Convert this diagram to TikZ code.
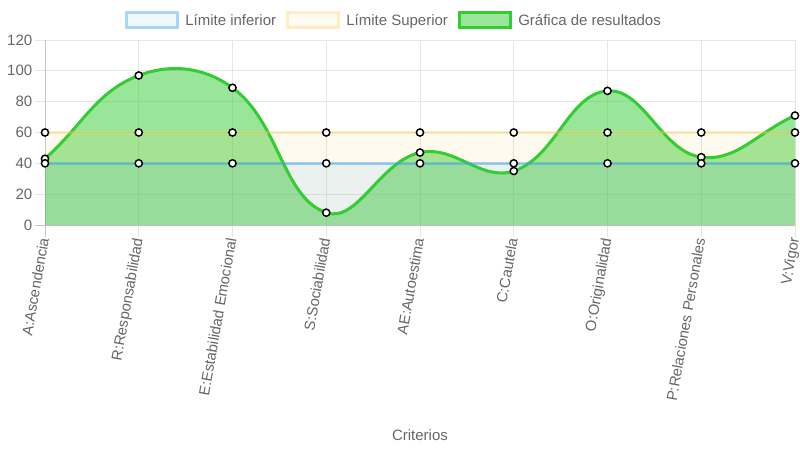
\documentclass[tikz,border=0pt]{standalone}
\usepackage{fontspec}
\setmainfont{Liberation Sans}
\definecolor{cblue}{RGB}{54,162,235}
\definecolor{cyel}{RGB}{255,205,86}
\definecolor{cgreen}{RGB}{51,204,51}
\definecolor{cgrid}{RGB}{230,230,230}
\definecolor{czero}{RGB}{196,196,196}
\definecolor{ctext}{RGB}{102,102,102}
\begin{document}
\begin{tikzpicture}[x=0.75pt,y=-0.75pt,
  lbl/.style={font=\fontsize{11.25pt}{13pt}\selectfont, text=ctext, inner sep=0pt},
  xlbl/.style={lbl, font=\fontsize{11.1pt}{13pt}\selectfont, rotate=80, anchor=east, text height=8pt, text depth=2.35pt},
  gridline/.style={draw=cgrid, line width=0.75pt},
  zeroline/.style={draw=czero, line width=0.75pt},
  dot/.style={circle, draw=black, fill=white, line width=1.1pt, inner sep=0pt, minimum size=5.4pt},
  serie/.style={line width=2.25pt}]
\useasboundingbox (0,0) rectangle (800,450);
% horizontal grid
\foreach \yy in {40,70.83,101.67,132.5,163.33,194.17}{
  \draw[gridline] (35,\yy) -- (795,\yy);
}
% vertical grid
\foreach \xx in {138.75,232.5,326.25,420,513.75,607.5,701.25,795}{
  \draw[gridline] (\xx,40) -- (\xx,237);
}
\draw[zeroline] (45,40) -- (45,237);
\draw[zeroline] (35,225) -- (795,225);
% y tick labels
\node[lbl, anchor=east] (t120) at (32.5,40) {120};
\node[lbl, anchor=east] (t100) at (32.5,70.83) {100};
\node[lbl, anchor=east] (t80) at (32.5,101.67) {80};
\node[lbl, anchor=east] (t60) at (32.5,132.5) {60};
\node[lbl, anchor=east] (t40) at (32.5,163.33) {40};
\node[lbl, anchor=east] (t20) at (32.5,194.17) {20};
\node[lbl, anchor=east] (t0) at (32.5,225) {0};
% x tick labels
\node[xlbl] (xa) at (45.5,238) {A:Ascendencia};
\node[xlbl] (xr) at (139.25,238) {R:Responsabilidad};
\node[xlbl] (xe) at (233,238) {E:Estabilidad Emocional};
\node[xlbl] (xs) at (326.75,238) {S:Sociabilidad};
\node[xlbl] (xae) at (420.5,238) {AE:Autoestima};
\node[xlbl] (xc) at (514.25,238) {C:Cautela};
\node[xlbl] (xo) at (608,238) {O:Originalidad};
\node[xlbl] (xp) at (701.75,238) {P:Relaciones Personales};
\node[xlbl] (xv) at (795.5,238) {V:Vigor};
\node[lbl, anchor=base] (xtitle) at (420,440) {Criterios};
% data coordinates
\coordinate (g0) at (45,158.71);
\coordinate (g1) at (138.75,75.46);
\coordinate (g2) at (232.5,87.79);
\coordinate (g3) at (326.25,212.67);
\coordinate (g4) at (420,152.54);
\coordinate (g5) at (513.75,171.04);
\coordinate (g6) at (607.5,90.87);
\coordinate (g7) at (701.25,157.17);
\coordinate (g8) at (795,115.54);
\coordinate (gb0) at (45,225);
\coordinate (gb8) at (795,225);
\def\greencurve{(g0) .. controls (82.5,125.41) and (95.99,91.63) .. (g1)
 .. controls (170.99,63.26) and (204.21,67.09) .. (g2)
 .. controls (279.21,121.97) and (282.47,197.55) .. (g3)
 .. controls (357.47,223.45) and (379.63,161.50) .. (g4)
 .. controls (454.63,144.85) and (481.01,181.81) .. (g5)
 .. controls (556.01,157.14) and (568.66,93.74) .. (g6)
 .. controls (643.66,88.20) and (661.64,151.96) .. (g7)
 .. controls (736.64,161.83) and (757.5,132.19) .. (g8)}
\coordinate (ya) at (45,132.5);
\coordinate (yb) at (795,132.5);
\coordinate (ba) at (45,163.33);
\coordinate (bb) at (795,163.33);
% fills
\fill[cgreen, fill opacity=0.5] (gb0) -- \greencurve -- (gb8) -- cycle;
\fill[cyel, fill opacity=0.1] (ya) rectangle (gb8);
\fill[cblue, fill opacity=0.1] (ba) rectangle (gb8);
% green series
\draw[serie, cgreen] \greencurve;
\foreach \i in {0,...,8}{ \node[dot] (gp\i) at (g\i) {}; }
% yellow series
\draw[serie, cyel, draw opacity=0.38] (ya) -- (yb);
\foreach \i/\xx in {0/45,1/138.75,2/232.5,3/326.25,4/420,5/513.75,6/607.5,7/701.25,8/795}{
  \node[dot] (yp\i) at (\xx,132.5) {};
}
% blue series
\draw[serie, cblue, draw opacity=0.45] (ba) -- (bb);
\foreach \i/\xx in {0/45,1/138.75,2/232.5,3/326.25,4/420,5/513.75,6/607.5,7/701.25,8/795}{
  \node[dot] (bp\i) at (\xx,163.33) {};
}
% legend
\filldraw[line width=2.25pt, draw=cblue, draw opacity=0.42, fill=cblue, fill opacity=0.08] (126.5,12.5) rectangle (177.5,27.5);
\node[lbl, anchor=base west] (leg1) at (185,25.5) {Límite inferior};
\filldraw[line width=2.25pt, draw=cyel, draw opacity=0.35, fill=cyel, fill opacity=0.08] (287.5,12.5) rectangle (338.5,27.5);
\node[lbl, anchor=base west] (leg2) at (346,25.5) {Límite Superior};
\filldraw[line width=2.25pt, draw=cgreen, fill=cgreen, fill opacity=0.5] (459.5,12.5) rectangle (510.5,27.5);
\node[lbl, anchor=base west] (leg3) at (518,25.5) {Gráfica de resultados};
\end{tikzpicture}
\end{document}
